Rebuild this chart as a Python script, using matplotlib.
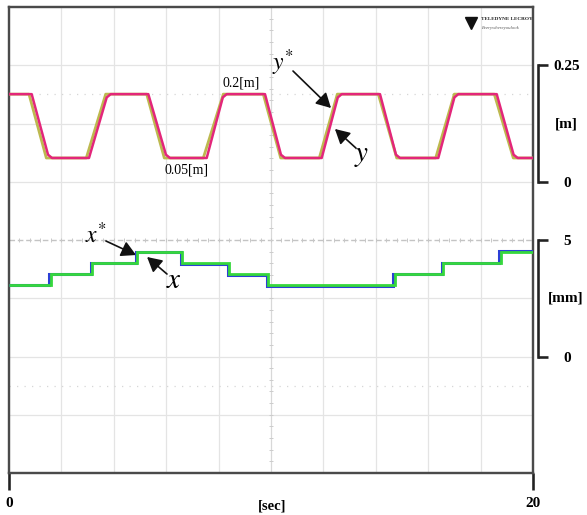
import numpy as np
import matplotlib
matplotlib.use("Agg")
import matplotlib.pyplot as plt

plt.rcParams['font.family'] = ['Liberation Serif', 'DejaVu Serif']
plt.rcParams['mathtext.fontset'] = 'stix'

# ---------------- data ----------------
# y* (reference, olive) and y (actual, pink) in metres vs time in seconds
ystar_t = [0, 0.763, 1.424, 2.950, 3.691, 5.256, 5.927, 7.416, 8.179, 9.706, 10.370,
           11.844, 12.531, 14.096, 14.798, 16.286, 16.996, 18.523, 19.248, 20]
ystar_v = [0.188, 0.188, 0.051, 0.051, 0.188, 0.188, 0.051, 0.051, 0.188, 0.188, 0.051,
           0.051, 0.188, 0.188, 0.051, 0.051, 0.188, 0.188, 0.051, 0.051]

y_t = [0, 0.866, 1.49, 1.641, 3.053, 3.73, 3.882, 5.317, 5.99, 6.145, 7.546, 8.16, 8.309,
       9.771, 10.38, 10.534, 11.935, 12.55, 12.698, 14.160, 14.77, 14.924, 16.385, 17.00,
       17.149, 18.615, 19.26, 19.416, 20]
y_v = [0.188, 0.188, 0.058, 0.051, 0.051, 0.181, 0.188, 0.188, 0.058, 0.051, 0.051, 0.181,
       0.188, 0.188, 0.058, 0.051, 0.051, 0.181, 0.188, 0.188, 0.058, 0.051, 0.051, 0.181,
       0.188, 0.188, 0.058, 0.051, 0.051]

# x* (reference, green) and x (actual, blue) in mm: step edges (s) and levels
xstar_edges = [0, 1.59, 3.18, 4.90, 6.59, 8.41, 9.90, 14.73, 16.58, 18.78, 20]
xstar_levels = [3.07, 3.54, 4.00, 4.49, 4.00, 3.54, 3.07, 3.54, 4.00, 4.50]
x_edges = [0, 1.53, 3.12, 4.84, 6.55, 8.37, 9.86, 14.67, 16.52, 18.72, 20]
x_levels = [3.05, 3.55, 4.02, 4.50, 3.96, 3.50, 3.03, 3.55, 4.02, 4.51]

time_ticks = [0, 20]
time_ticklabels = ['0', '20']
m_ticks = [0, 0.25]
m_ticklabels = ['0', '0.25']
mm_ticks = [0, 5]
mm_ticklabels = ['0', '5']

# ---------------- figure ----------------
W, H = 587, 515
fig = plt.figure(figsize=(W / 100, H / 100), dpi=100)
L, R, T, B = 9, 533, 7, 473
ax = fig.add_axes([L / W, 1 - B / H, (R - L) / W, (B - T) / H])
ax.set_xlim(0, 20)
ax.set_ylim(0, 8)

px = 0.72  # points per pixel

# grid (10 x 8 divisions)
grid_c = '#e4e4e4'
for xv in np.arange(2, 20, 2):
    if xv == 10:
        continue
    ax.axvline(xv, color=grid_c, lw=0.9, zorder=0)
for yv in range(1, 8):
    if yv == 4:
        continue
    ax.axhline(yv, color=grid_c, lw=0.9, zorder=0)
# centre cross with minor tick marks
ax.axvline(10, color='#d8d8d8', lw=0.9, zorder=0)
ax.axhline(4, color='#c4c4c4', lw=1.0, ls=(0, (4, 2)), zorder=0)
minor_x = np.arange(0, 20.01, 0.4)
minor_y = np.arange(0, 8.01, 0.2)
ax.plot(minor_x, np.full_like(minor_x, 4.0), ls='none', marker='|', ms=3, mew=0.7,
        color='#c8c8c8', zorder=0)
ax.plot(np.full_like(minor_y, 10.0), minor_y, ls='none', marker='_', ms=3, mew=0.7,
        color='#cccccc', zorder=0)
# faint dotted guide rows
ax.axhline(6.5, color='#d6d6d6', lw=0.9, ls=(0, (1, 5)), zorder=0)
ax.axhline(1.5, color='#d6d6d6', lw=0.9, ls=(0, (1, 5)), zorder=0)

for s in ax.spines.values():
    s.set_color('#4a4a4a')
    s.set_linewidth(2.4 * px)
ax.set_yticks([])
ax.set_xticks(time_ticks, time_ticklabels)
ax.tick_params(axis='x', direction='out', length=17 * px, width=2.6 * px, color='#222222',
               pad=7 * px, labelsize=11)
for lab in ax.get_xticklabels():
    lab.set_fontweight('bold')
ax.text(0.503, -0.07, '[sec]', transform=ax.transAxes, ha='center', va='center',
        fontsize=10.5, fontweight='bold')

# ---- y [m] axis ----
ax_m = ax.twinx()
div_m = 0.125
ax_m.set_ylim(-5 * div_m, 3 * div_m)
ax_m.plot(ystar_t, ystar_v, color='#bdb94f', lw=2.0, zorder=2)
ax_m.plot(y_t, y_v, color='#e3267a', lw=1.8, zorder=3)

# ---- x [mm] axis ----
ax_mm = ax.twinx()
div_mm = 2.5
ax_mm.set_ylim(-2 * div_mm, 6 * div_mm)
ax_mm.stairs(x_levels, x_edges, color='#2c3fd6', lw=2.2, zorder=2, baseline=None)
ax_mm.stairs(xstar_levels, xstar_edges, color='#36d83c', lw=2.0, zorder=3, baseline=None)

for a, ticks, labels, unit, mid in ((ax_m, m_ticks, m_ticklabels, '[m]', 0.125),
                                    (ax_mm, mm_ticks, mm_ticklabels, '[mm]', 2.5)):
    for k in ('left', 'top', 'bottom'):
        a.spines[k].set_visible(False)
    sp = a.spines['right']
    sp.set_position(('outward', 5 * px))
    sp.set_bounds(ticks[0], ticks[-1])
    sp.set_linewidth(2.6 * px)
    sp.set_color('#222222')
    a.set_yticks(ticks, labels)
    a.tick_params(axis='y', direction='out', length=10 * px, width=2.6 * px,
                  color='#222222', pad=19 * px, labelsize=11)
    for lab in a.get_yticklabels():
        lab.set_fontweight('bold')
        lab.set_horizontalalignment('center')
    a.annotate(unit, xy=(1, mid), xycoords=('axes fraction', 'data'),
               xytext=(33 * px, 0), textcoords='offset points', ha='center', va='center',
               fontsize=11, fontweight='bold')

# ---------------- annotations (in sec / division units of main axes) ----------------
arrow = dict(arrowstyle='-|>,head_length=0.55,head_width=0.3', color='#111111', lw=1.2,
             mutation_scale=16, shrinkA=0, shrinkB=0)
ax.annotate('', xy=(12.29, 6.266), xytext=(10.84, 6.901), arrowprops=arrow, zorder=5)
ax.text(10.46, 7.04, r'$y^{*}$', fontsize=17, ha='center', va='center', zorder=5)
ax.annotate('', xy=(12.44, 5.906), xytext=(13.24, 5.579), arrowprops=arrow, zorder=5)
ax.text(13.47, 5.44, r'$y$', fontsize=21, ha='center', va='center', zorder=5)
ax.annotate('', xy=(4.85, 3.742), xytext=(3.70, 3.983), arrowprops=arrow, zorder=5)
ax.text(3.32, 4.086, r'$x^{*}$', fontsize=17, ha='center', va='center', zorder=5)
ax.annotate('', xy=(5.27, 3.708), xytext=(6.03, 3.416), arrowprops=arrow, zorder=5)
ax.text(6.30, 3.296, r'$x$', fontsize=21, ha='center', va='center', zorder=5)
ax.text(8.86, 6.70, '0.2[m]', fontsize=10, ha='center', va='center', zorder=5)
ax.text(6.79, 5.20, '0.05[m]', fontsize=10, ha='center', va='center', zorder=5)

# logo
ax.plot([17.62], [7.72], marker='v', ms=9, color='#111111', zorder=5)
ax.text(18.02, 7.80, 'TELEDYNE LECROY', fontsize=3.8, fontweight='bold', color='#222222',
        ha='left', va='center', zorder=5)
ax.text(18.02, 7.64, 'Everywhereyoulook', fontsize=3.4, color='#555555', style='italic',
        ha='left', va='center', zorder=5)

fig.savefig('out.png', dpi=100)
